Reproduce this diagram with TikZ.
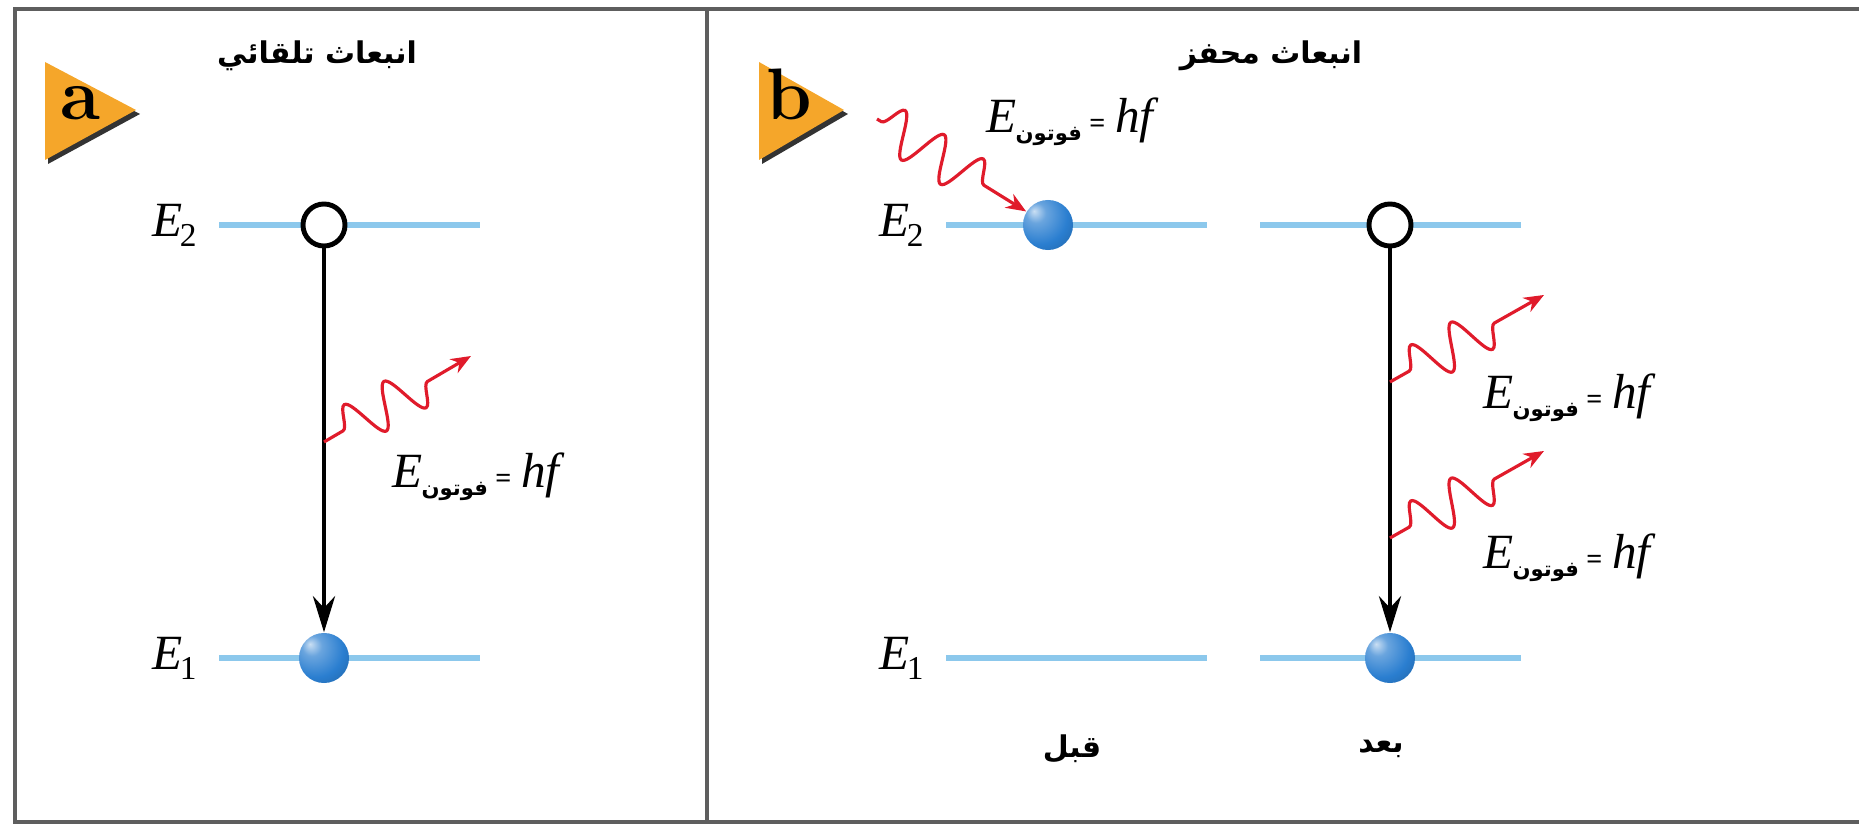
\documentclass[tikz,border=0pt]{standalone}
\usepackage{fontspec}
\newfontfamily\arabicfont[Script=Arabic]{DejaVu Sans}
\newfontfamily\tiempos{Liberation Serif}
\TeXXeTstate=1
\usetikzlibrary{positioning,arrows.meta,decorations.pathmorphing}
\definecolor{nivAzul}{HTML}{8CC8EC}
\definecolor{fotRojo}{HTML}{E01B2B}
\definecolor{insNaranja}{HTML}{F5A62A}
\definecolor{eleAzul}{HTML}{2A7ED0}
\definecolor{marGris}{HTML}{5E5E5E}
\pgfdeclareradialshading{esfera}{\pgfqpoint{-14bp}{14bp}}{%
  color(0bp)=(eleAzul!25!white); color(10bp)=(eleAzul!70!white);
  color(28bp)=(eleAzul); color(52bp)=(eleAzul!70!black);
  color(75bp)=(eleAzul!55!black)}
\newcommand{\nivE}[1]{{\itshape E}\kern-0.06em\raisebox{-0.45ex}{\fontsize{9.5}{10}\selectfont #1}}
\newcommand{\efoton}{{\itshape E}\kern-0.02em\raisebox{-0.35ex}{\fontsize{6}{6}\selectfont\bfseries\arabicfont\beginR فوتون\endR}\kern0.15em{\fontsize{8}{8}\selectfont\bfseries =}\kern0.2em{\itshape hf}}

\begin{document}
\begin{tikzpicture}[x=0.01cm, y=-0.01cm,
      marco/.style={draw=marGris, line width=1.1pt},
      nivel/.style={nivAzul, line width=1.8pt},
      hueco/.style={circle, draw=black, line width=1.4pt, fill=white,
                    minimum size=0.42cm, inner sep=0pt},
      electron/.style={circle, shading=esfera,
                       minimum size=0.5cm, inner sep=0pt},
      salto/.style={line width=1.4pt, -{Stealth[length=3.6mm, width=2.2mm]}},
      foton/.style={fotRojo, line width=0.9pt, decorate,
                    decoration={snake, amplitude=2.2mm, segment length=4.6mm,
                                pre length=2.2mm, post length=5mm},
                    -{Stealth[length=2mm, width=1.6mm]}},
      titulo/.style={font=\fontsize{8.5}{10}\selectfont\bfseries\arabicfont},
      letra/.style={font=\huge\bfseries, anchor=base},
      every node/.style={font=\tiempos\fontsize{14}{16}\selectfont}]
    \useasboundingbox (0,0) rectangle (1859,834);
    % marco
    \draw[marco] (1859,9) -- (15,9) -- (15,822) -- (1859,822);
    \draw[marco] (707,9) -- (707,822);

    % (a) emision espontanea
    \fill[black!80] (48,66) -- (140,114) -- (48,164) -- cycle;
    \fill[insNaranja] (45,62) -- (136,110) -- (45,160) -- cycle;
    \node[letra] (insA) at (80,120) {a};
    \node[titulo] (tituloA) at (317,56) {\beginR انبعاث تلقائي\endR};
    \draw[nivel] (219,225) -- (480,225);
    \draw[nivel] (219,658) -- (480,658);
    \coordinate (a2) at (219,225);
    \coordinate (a1) at (219,658);
    \node[left=0.1cm of a2] (etqA2) {\nivE{2}};
    \node[left=0.1cm of a1] (etqA1) {\nivE{1}};
    \node[hueco]    (huecoA) at (324,225) {};
    \node[electron] (elecA)  at (324,658) {};
    \draw[salto] (huecoA) -- (elecA);
    \coordinate (emiA) at (324,442);
    \coordinate (finA) at (471,356);
    \draw[foton] (emiA) -- (finA);
    \node (etqA) at (476,477) {\efoton};

    % (b) emision estimulada
    \fill[black!80] (762,66) -- (848,114) -- (762,164) -- cycle;
    \fill[insNaranja] (759,62) -- (844,110) -- (759,160) -- cycle;
    \node[letra] (insB) at (789,120) {b};
    \node[titulo] (tituloB) at (1271,56) {\beginR انبعاث محفز\endR};
    \draw[nivel] (946,225) -- (1207,225);
    \draw[nivel] (1260,225) -- (1521,225);
    \draw[nivel] (946,658) -- (1207,658);
    \draw[nivel] (1260,658) -- (1521,658);
    \coordinate (b2) at (946,225);
    \coordinate (b1) at (946,658);
    \node[left=0.1cm of b2] (etqB2) {\nivE{2}};
    \node[left=0.1cm of b1] (etqB1) {\nivE{1}};
    % antes
    \node[electron] (antes) at (1048,225) {};
    \coordinate (entrada) at (877,119);
    \draw[foton, decoration={pre length=0.5mm, post length=4.5mm}] (entrada) -- (antes);
    \node (etqEnt) at (1070,122) {\efoton};
    \node[titulo] (antesT) at (1072,749) {\beginR قبل\endR};
    % despues
    \node[hueco]    (huecoB)  at (1390,225) {};
    \node[electron] (despues) at (1390,658) {};
    \draw[salto] (huecoB) -- (despues);
    \coordinate (emiB1) at (1390,382);
    \coordinate (finB1) at (1544,295);
    \coordinate (emiB2) at (1390,538);
    \coordinate (finB2) at (1544,451);
    \draw[foton] (emiB1) -- (finB1);
    \draw[foton] (emiB2) -- (finB2);
    \node (etqB1) at (1567,398) {\efoton};
    \node (etqB2) at (1567,558) {\efoton};
    \node[titulo] (despT) at (1381,749) {\beginR بعد\endR};
  \end{tikzpicture}
\end{document}
